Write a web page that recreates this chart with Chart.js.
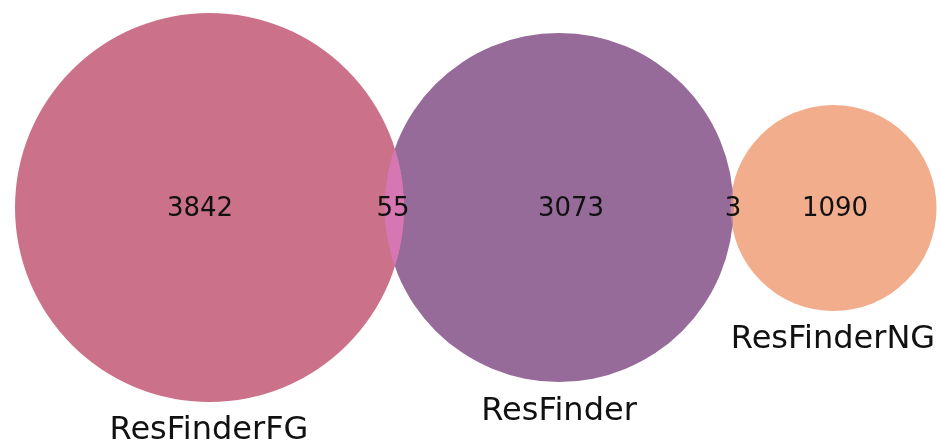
<!DOCTYPE html>
<html>
<head>
<meta charset="utf-8">
<script src="https://cdn.jsdelivr.net/npm/chart.js@4/dist/chart.umd.min.js"></script>
<style>
  html, body { margin: 0; padding: 0; background: #fff; }
  #wrap { width: 940px; height: 446px; }
</style>
</head>
<body>
<div id="wrap"><canvas id="venn" width="940" height="446"></canvas></div>
<script>
// sets (circle centres / radii in plot units)
const setNames = ['ResFinderFG', 'ResFinder', 'ResFinderNG'];
const setX = [209.5, 559, 833.5];
const setY = [207.5, 207.5, 208];
const setR = [194.5, 174.5, 103];
const setColors = ['#cb728a', '#966a99', '#f2ad8d'];

// set label positions
const nameX = [209, 559, 833];
const nameY = [431, 412, 340];

// region counts
const regionLabels = ['3842', '55', '3073', '3', '1090'];
const regionX = [200, 393, 571, 733, 835];
const regionY = [209, 209, 209, 209, 209];

// overlaps: [setA, setB, colour]
const overlaps = [[0, 1, '#d676b2'], [1, 2, '#c98b98']];

const vennText = {
  id: 'vennText',
  afterDatasetsDraw(chart) {
    const { ctx, scales: { x, y } } = chart;
    const px = v => x.getPixelForValue(v);
    const py = v => y.getPixelForValue(v);
    const pr = r => x.getPixelForValue(r) - x.getPixelForValue(0);

    // overlap lenses
    overlaps.forEach(([a, b, col]) => {
      ctx.save();
      ctx.beginPath();
      ctx.arc(px(setX[a]), py(setY[a]), pr(setR[a]), 0, Math.PI * 2);
      ctx.clip();
      ctx.beginPath();
      ctx.arc(px(setX[b]), py(setY[b]), pr(setR[b]), 0, Math.PI * 2);
      ctx.fillStyle = col;
      ctx.fill();
      ctx.restore();
    });

    ctx.save();
    ctx.fillStyle = '#111';
    ctx.textAlign = 'center';
    ctx.textBaseline = 'middle';
    ctx.font = '26px "DejaVu Sans"';
    regionLabels.forEach((t, i) => ctx.fillText(t, px(regionX[i]), py(regionY[i])));
    ctx.font = '32px "DejaVu Sans"';
    setNames.forEach((t, i) => ctx.fillText(t, px(nameX[i]), py(nameY[i])));
    ctx.restore();
  }
};

new Chart(document.getElementById('venn'), {
  type: 'scatter',
  data: {
    datasets: setNames.map((name, i) => ({
      label: name,
      data: [{ x: setX[i], y: setY[i] }],
      backgroundColor: setColors[i],
      borderWidth: 0,
      pointRadius: ctx => {
        const s = ctx.chart.scales.x;
        return s.getPixelForValue(setR[i]) - s.getPixelForValue(0);
      },
      pointHoverRadius: ctx => {
        const s = ctx.chart.scales.x;
        return s.getPixelForValue(setR[i]) - s.getPixelForValue(0);
      }
    }))
  },
  options: {
    responsive: false,
    animation: false,
    layout: { padding: 0 },
    plugins: { legend: { display: false }, tooltip: { enabled: false } },
    scales: {
      x: { type: 'linear', min: 0, max: 940, display: false },
      y: { type: 'linear', min: 0, max: 446, reverse: true, display: false }
    }
  },
  plugins: [vennText]
});
</script>
</body>
</html>
